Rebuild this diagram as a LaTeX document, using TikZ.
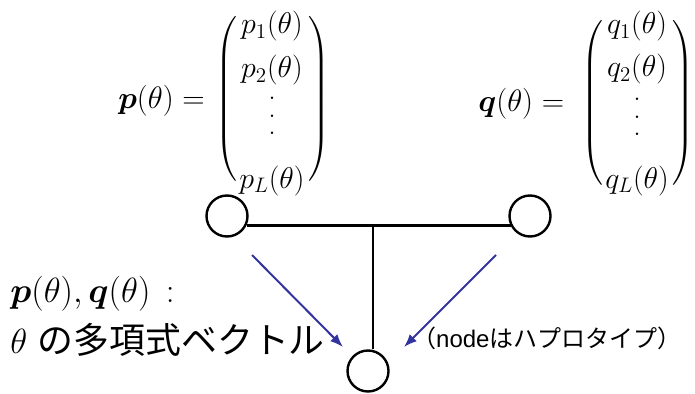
\RequirePackage{fix-cm}
\documentclass[tikz,border=0pt]{standalone}
\usepackage{amsmath}
\usepackage{bm}
\usepackage{fontspec}
\newfontfamily\jpfont{Noto Sans CJK JP}
\newfontfamily\latfont{Liberation Sans}
\usetikzlibrary{arrows.meta}
\definecolor{arrowblue}{RGB}{51,51,160}
\newcommand{\myvdots}{\vbox{\baselineskip=11.5pt\lineskiplimit=0pt\hbox{.}\hbox{.}\hbox{.}}}
\newcommand{\bigparen}[1]{$\left#1\vcenter{\hbox{\rule{0pt}{168pt}}}\right.$}
\begin{document}
\begin{tikzpicture}[x=1pt,y=-1pt,
  hap/.style={circle,draw,line width=2.4pt,minimum size=41pt,inner sep=0pt},
  edge/.style={line width=2.3pt},
  blarrow/.style={draw=arrowblue,line width=2pt,-{Latex[length=13pt,width=10pt]}},
  mtext/.style={inner sep=0pt,scale=1.5,font=\fontsize{20}{24}\selectfont},
  lbl/.style={inner sep=0pt,scale=1.55,anchor=base west,font=\fontsize{20}{24}\selectfont},
  paren/.style={inner sep=0pt,font=\fontsize{24}{30}\selectfont,anchor=center},
  lefttext/.style={inner sep=0pt,scale=1.75,anchor=base west,font=\fontsize{20}{24}\selectfont},
  note/.style={inner sep=0pt,anchor=base west,font=\fontsize{24}{28}\selectfont\jpfont}]
\useasboundingbox (0,0) rectangle (695,393);
% vector p
\node[lbl] (peq) at (118,108) {$\bm{p}(\theta) =$};
\node[paren] (plp) at (227,99) {\bigparen{(}};
\node[paren] (prp) at (320,99) {\bigparen{)}};
\node[mtext,anchor=base] (p1) at (272,34) {$p_1(\theta)$};
\node[mtext,anchor=base] (p2) at (272,78) {$p_2(\theta)$};
\node[mtext,anchor=center] (pv) at (272,116) {\myvdots};
\node[mtext,anchor=base] (pL) at (272,188) {$p_L(\theta)$};
% vector q
\node[lbl] (qeq) at (478,111) {$\bm{q}(\theta) =$};
\node[paren] (qlp) at (593,103) {\bigparen{(}};
\node[paren] (qrp) at (684,103) {\bigparen{)}};
\node[mtext,anchor=base] (q1) at (637,34) {$q_1(\theta)$};
\node[mtext,anchor=base] (q2) at (637,77) {$q_2(\theta)$};
\node[mtext,anchor=center] (qv) at (637,117) {\myvdots};
\node[mtext,anchor=base] (qL) at (637,188) {$q_L(\theta)$};
% tree
\node[hap] (L) at (227,216) {};
\node[hap] (R) at (530,216) {};
\node[hap] (B) at (368,371) {};
\coordinate (J) at (373,225);
\draw[edge] (L.-26) -- (R.206);
\draw[edge] (J) -- (J |- B.north);
% arrows
\coordinate (a1s) at (252,255);
\coordinate (a1e) at (343,347);
\coordinate (a2s) at (496,255);
\coordinate (a2e) at (404,347);
\draw[blarrow] (a1s) -- (a1e);
\draw[blarrow] (a2s) -- (a2e);
% texts
\node[lefttext] (t1) at (10,302) {$\bm{p}(\theta),\bm{q}(\theta)\,:$};
\node[lefttext] (t2) at (10,353) {$\theta$\ {\fontsize{20.5}{24}\selectfont\jpfont の多項式ベクトル}};
\node[note] (t3) at (412,347) {（{\latfont node}はハプロタイプ）};
\end{tikzpicture}
\end{document}
